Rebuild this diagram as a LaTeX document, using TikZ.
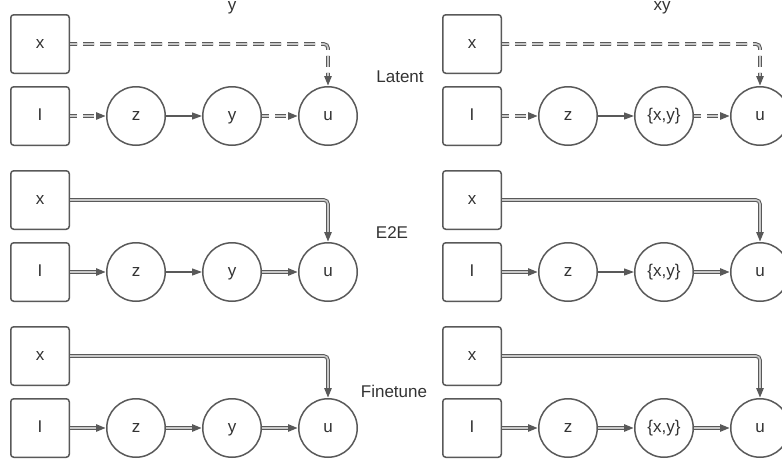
\documentclass[tikz,border=0pt]{standalone}
\usepackage{fontspec}
\setmainfont{Liberation Sans}
\usetikzlibrary{arrows.meta,decorations.markings}
\definecolor{lc}{RGB}{89,89,89}
\definecolor{dc}{RGB}{200,200,200}
\definecolor{tc}{RGB}{51,51,51}
\tikzset{
  lbl/.style={font=\fontsize{17}{20}\selectfont, text=tc},
  inlbl/.style={lbl, text height=12pt, text depth=3.5pt},
  box/.style={inlbl, draw=lc, line width=1.5pt, rounded corners=3pt, minimum width=58.5pt, minimum height=58.5pt, inner sep=0pt},
  var/.style={inlbl, draw=lc, line width=1.5pt, circle, minimum size=58.5pt, inner sep=0pt},
  tipend/.style={postaction={decorate}, decoration={markings, mark=at position 1 with {\arrow[lc, solid]{Triangle[length=10pt,width=7pt]}}}},
  dbl/.style={draw=lc, line width=1pt, double=dc, double distance=1.6pt, shorten >=8pt, tipend},
  dbldash/.style={dbl, dash pattern=on 11pt off 6pt, dash phase=4pt},
  sgl/.style={draw=lc, line width=1.2pt, shorten >=8pt, tipend},
  elbow/.style={rounded corners=4pt},
}
\begin{document}
\begin{tikzpicture}[x=1pt, y=-1pt]
\useasboundingbox (0,0) rectangle (782,466);

% ---------- titles ----------
\node[lbl, anchor=base] (tL) at (232,10) {y};
\node[lbl, anchor=base] (tR) at (662,10) {xy};
\node[lbl] (latent) at (400,77) {Latent};
\node[lbl] (e2e) at (392,233) {E2E};
\node[lbl] (fine) at (394,391) {Finetune};

% ---------- left panel ----------
\node[box] (xL1) at (40,44) {x};
\node[box] (IL1) at (40,116) {I};
\node[var] (zL1) at (136,116) {z};
\node[var] (mL1) at (232,116) {y};
\node[var] (uL1) at (328,116) {u};

\node[box] (xL2) at (40,200) {x};
\node[box] (IL2) at (40,272) {I};
\node[var] (zL2) at (136,272) {z};
\node[var] (mL2) at (232,272) {y};
\node[var] (uL2) at (328,272) {u};

\node[box] (xL3) at (40,356) {x};
\node[box] (IL3) at (40,428) {I};
\node[var] (zL3) at (136,428) {z};
\node[var] (mL3) at (232,428) {y};
\node[var] (uL3) at (328,428) {u};

% ---------- right panel ----------
\node[box] (xR1) at (472,44) {x};
\node[box] (IR1) at (472,116) {I};
\node[var] (zR1) at (568,116) {z};
\node[var] (mR1) at (664,116) {\{x,y\}};
\node[var] (uR1) at (760,116) {u};

\node[box] (xR2) at (472,200) {x};
\node[box] (IR2) at (472,272) {I};
\node[var] (zR2) at (568,272) {z};
\node[var] (mR2) at (664,272) {\{x,y\}};
\node[var] (uR2) at (760,272) {u};

\node[box] (xR3) at (472,356) {x};
\node[box] (IR3) at (472,428) {I};
\node[var] (zR3) at (568,428) {z};
\node[var] (mR3) at (664,428) {\{x,y\}};
\node[var] (uR3) at (760,428) {u};

% ---------- connectors: Latent ----------
\draw[dbldash, elbow] (xL1.east) -| (uL1.north);
\draw[dbldash] (IL1.east) -- (zL1.west);
\draw[sgl] (zL1.east) -- (mL1.west);
\draw[dbldash] (mL1.east) -- (uL1.west);

\draw[dbldash, elbow] (xR1.east) -| (uR1.north);
\draw[dbldash] (IR1.east) -- (zR1.west);
\draw[sgl] (zR1.east) -- (mR1.west);
\draw[dbldash] (mR1.east) -- (uR1.west);

% ---------- connectors: E2E ----------
\draw[dbl, elbow] (xL2.east) -| (uL2.north);
\draw[dbl] (IL2.east) -- (zL2.west);
\draw[sgl] (zL2.east) -- (mL2.west);
\draw[dbl] (mL2.east) -- (uL2.west);

\draw[dbl, elbow] (xR2.east) -| (uR2.north);
\draw[dbl] (IR2.east) -- (zR2.west);
\draw[sgl] (zR2.east) -- (mR2.west);
\draw[dbl] (mR2.east) -- (uR2.west);

% ---------- connectors: Finetune ----------
\draw[dbl, elbow] (xL3.east) -| (uL3.north);
\draw[dbl] (IL3.east) -- (zL3.west);
\draw[dbl] (zL3.east) -- (mL3.west);
\draw[dbl] (mL3.east) -- (uL3.west);

\draw[dbl, elbow] (xR3.east) -| (uR3.north);
\draw[dbl] (IR3.east) -- (zR3.west);
\draw[dbl] (zR3.east) -- (mR3.west);
\draw[dbl] (mR3.east) -- (uR3.west);
\end{tikzpicture}
\end{document}
